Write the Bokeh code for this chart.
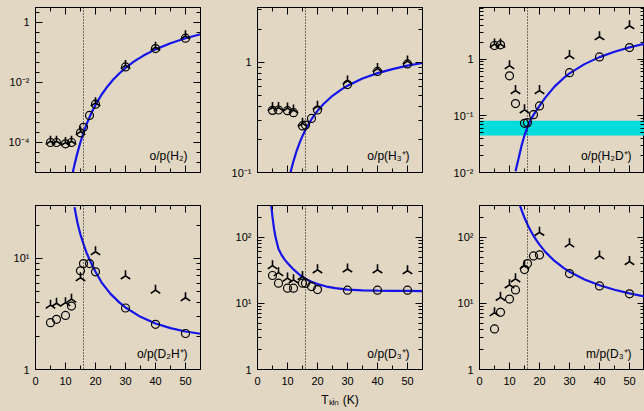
import math
from bokeh.plotting import figure
from bokeh.layouts import gridplot
from bokeh.models import (LinearAxis, LogAxis, FixedTicker, Span, BoxAnnotation,
                          Label, CustomJSTickFormatter)
from bokeh.embed import file_html
from bokeh.resources import INLINE

# ---------------- data ----------------
T_circ = [5, 7, 10, 12, 15, 16, 18, 20, 30, 40, 50]
T_tri = [5, 7, 10, 12, 15, 20, 30, 40, 50]
T_dust = 16

# o/p(H2)
h2_circ = [1.0e-4, 1.0e-4, 0.9e-4, 1.0e-4, 2.1e-4, 3.2e-4, 8.0e-4, 1.9e-3, 0.033, 0.135, 0.30]
h2_tri = [1.1e-4, 1.1e-4, 1.0e-4, 1.1e-4, 2.3e-4, 2.1e-3, 0.037, 0.15, 0.36]
h2_curve_T = [12, 12.5, 13, 13.5, 14, 15, 16, 17, 18, 19, 20, 22, 24, 26, 28, 30, 33, 36, 40, 45, 50, 55]
h2_curve = [6.1e-6, 1.07e-5, 1.83e-5, 2.9e-5, 4.6e-5, 1.04e-4, 2.1e-4, 4.0e-4, 6.9e-4, 1.14e-3,
            1.79e-3, 3.9e-3, 7.4e-3, 0.0128, 0.0204, 0.0306, 0.0513, 0.079, 0.127, 0.204, 0.297, 0.405]

# o/p(H3+)
h3p_circ = [0.367, 0.37, 0.365, 0.35, 0.265, 0.27, 0.31, 0.37, 0.63, 0.83, 0.97]
h3p_tri = [0.39, 0.39, 0.385, 0.37, 0.28, 0.40, 0.68, 0.88, 1.03]
h3p_curve_T = [11, 11.5, 12, 13, 14, 15, 16, 18, 20, 22, 25, 28, 30, 35, 40, 45, 50, 55]
h3p_curve = [0.100, 0.113, 0.127, 0.156, 0.185, 0.215, 0.245, 0.305, 0.363, 0.419, 0.498,
             0.570, 0.614, 0.714, 0.80, 0.871, 0.935, 0.990]

# o/p(H2D+)
h2dp_circ = [1.75, 1.8, 0.51, 0.165, 0.074, 0.076, 0.105, 0.15, 0.58, 1.1, 1.61]
h2dp_tri = [1.85, 1.85, 0.77, 0.28, 0.128, 0.28, 1.16, 2.5, 3.9]
h2dp_curve_T = [12, 12.5, 13, 14, 15, 16, 17, 18, 20, 22, 25, 28, 30, 35, 40, 45, 50, 55]
h2dp_curve = [0.0105, 0.0136, 0.0175, 0.0295, 0.0455, 0.063, 0.084, 0.104, 0.150, 0.212,
              0.328, 0.463, 0.563, 0.820, 1.09, 1.36, 1.62, 1.87]
h2dp_band = [0.045, 0.082]

# o/p(D2H+)
d2hp_circ = [2.64, 2.83, 3.07, 3.73, 7.74, 9.0, 9.0, 7.58, 3.58, 2.55, 2.11]
d2hp_tri = [3.8, 3.95, 4.0, 4.3, 6.7, 11.5, 6.98, 5.18, 4.43]
d2hp_curve_T = [13, 13.5, 14, 14.5, 15, 16, 17, 18, 19, 20, 22, 25, 28, 30, 35, 40, 45, 50, 55]
d2hp_curve = [29, 24.5, 21, 18.4, 16.4, 13.5, 11.3, 9.8, 8.6, 7.6, 6.1, 4.8, 4.0, 3.62,
              2.98, 2.6, 2.36, 2.2, 2.1]

# o/p(D3+)
d3p_circ = [26.3, 20.1, 16.9, 16.9, 20.1, 20.0, 17.9, 16.1, 15.8, 15.8, 15.8]
d3p_tri = [37, 29, 24, 22.6, 25.3, 32, 33, 32, 31]
d3p_curve_T = [4.6, 5.0, 5.5, 6, 7, 8, 9, 10, 12, 14, 16, 18, 20, 23, 26, 30, 35, 40, 45, 50, 55]
d3p_curve = [300, 200, 135, 100, 66, 54, 46, 40.5, 32.5, 27, 23.5, 21.2, 19.5, 17.9, 16.9,
             16.1, 15.7, 15.5, 15.4, 15.35, 15.3]

# m/p(D3+)
md3p_circ = [4.1, 7.3, 11.6, 15.9, 32.3, 39.8, 52, 53.8, 28.1, 18.3, 13.9]
md3p_tri = [7.2, 12.3, 19, 23.4, 37, 118, 79, 52, 42.7]
md3p_curve_T = [13.5, 14, 15, 16, 17, 18, 19, 20, 22, 25, 28, 30, 35, 40, 45, 50, 55]
md3p_curve = [298, 257, 196, 155, 126, 105, 89, 77, 59.3, 43.6, 34.2, 29.9, 22.9, 18.7,
              16.0, 14.1, 12.7]

panel_labels = ["o/p(H\u2082)", "o/p(H\u2083\u207a)", "o/p(H\u2082D\u207a)",
                "o/p(D\u2082H\u207a)", "o/p(D\u2083\u207a)", "m/p(D\u2083\u207a)"]
x_label = "T\u2096\u1d62\u2099 (K)"

x_range = [0, 55]
x_ticks = [0, 10, 20, 30, 40, 50]
x_minor_ticks = [5, 15, 25, 35, 45, 55]

y_ranges = [[1e-5, 3.16], [0.1, 3.16], [0.01, 8.2], [1, 30], [1, 300], [1, 300]]
y_ticks = [[1e-4, 1e-2, 1], [0.1, 1], [0.01, 0.1, 1], [1, 10], [1, 10, 100], [1, 10, 100]]
h2_minor_ticks = [10 ** (k / 3.0) for k in range(-15, 2)]
std_minor_ticks = [m * 10.0 ** e for e in range(-3, 3) for m in range(2, 10)]

# ---------------- style ----------------
BG = "#e1d7c3"
BLUE = "#1414e8"
CYAN = "#00dcdc"
FONT = "Liberation Sans"

col_w = [221, 223, 200]
col_left = [35, 36, 35]
col_right = [21, 22, 0]
row_h = [190, 221]
row_top = [7, 15]
row_bot = [18, 42]

SUP_JS = """
const e = Math.round(Math.log10(tick));
if (e === 0) { return "1"; }
const m = {"-":"\u207b","0":"\u2070","1":"\u00b9","2":"\u00b2","3":"\u00b3","4":"\u2074",
           "5":"\u2075","6":"\u2076","7":"\u2077","8":"\u2078","9":"\u2079"};
let s = "10";
for (const c of String(e)) { s += m[c]; }
return s;
"""


def style_axis(ax):
    ax.major_tick_in = 7
    ax.major_tick_out = 0
    ax.minor_tick_in = 4
    ax.minor_tick_out = 0
    ax.axis_line_color = "black"
    ax.major_tick_line_color = "black"
    ax.minor_tick_line_color = "black"
    ax.major_label_text_font = FONT
    ax.major_label_text_font_size = "11px"
    ax.major_label_text_color = "black"


def empty_fmt():
    return CustomJSTickFormatter(code="return '';")


def make_panel(idx, circ, tri, cT, cY, minor):
    row, col = divmod(idx, 3)
    yr = y_ranges[idx]
    p = figure(width=col_w[col], height=row_h[row], x_range=tuple(x_range), y_range=tuple(yr),
               y_axis_type="log", output_backend="svg", toolbar_location=None,
               min_border_left=col_left[col], min_border_right=col_right[col],
               min_border_top=row_top[row], min_border_bottom=row_bot[row],
               background_fill_color=BG, border_fill_color=BG,
               outline_line_color="black", outline_line_width=1)
    p.grid.visible = False

    xax = p.below[0]
    xax.ticker = FixedTicker(ticks=x_ticks, minor_ticks=x_minor_ticks)
    style_axis(xax)
    xax.major_label_standoff = 7
    if row == 0:
        xax.formatter = empty_fmt()
        xax.major_label_standoff = 0

    yax = p.left[0]
    yax.ticker = FixedTicker(ticks=y_ticks[idx], minor_ticks=minor)
    yax.formatter = CustomJSTickFormatter(code=SUP_JS)
    style_axis(yax)
    yax.major_label_standoff = 6

    rax = LogAxis(ticker=FixedTicker(ticks=y_ticks[idx], minor_ticks=minor), formatter=empty_fmt())
    style_axis(rax)
    rax.major_label_standoff = 0
    p.add_layout(rax, "right")

    tax = LinearAxis(ticker=FixedTicker(ticks=x_ticks, minor_ticks=x_minor_ticks), formatter=empty_fmt())
    style_axis(tax)
    tax.major_label_standoff = 0
    p.add_layout(tax, "above")

    if idx == 2:
        p.add_layout(BoxAnnotation(bottom=h2dp_band[0], top=h2dp_band[1], fill_color=CYAN,
                                   fill_alpha=1.0, line_alpha=0, level="underlay"))

    p.line(cT, cY, line_color=BLUE, line_width=2.2)
    p.scatter(T_tri, tri, marker="y", angle=math.pi, size=11, line_color="black",
              line_width=1.6, fill_color=None)
    p.scatter(T_circ, circ, marker="circle", size=8, line_color="black",
              line_width=1.2, fill_color=None)

    p.add_layout(Span(location=T_dust, dimension="height", line_color="black",
                      line_dash="1 2", line_width=1))

    lo, hi = math.log10(yr[0]), math.log10(yr[1])
    ly = 10 ** (lo + (16.0 / 164.0) * (hi - lo))
    p.add_layout(Label(x=50.7, y=ly, text=panel_labels[idx], text_align="right",
                       text_baseline="middle", text_font=FONT, text_font_size="12px",
                       text_color="black"))
    return p


p1 = make_panel(0, h2_circ, h2_tri, h2_curve_T, h2_curve, h2_minor_ticks)
p2 = make_panel(1, h3p_circ, h3p_tri, h3p_curve_T, h3p_curve, std_minor_ticks)
p3 = make_panel(2, h2dp_circ, h2dp_tri, h2dp_curve_T, h2dp_curve, std_minor_ticks)
p4 = make_panel(3, d2hp_circ, d2hp_tri, d2hp_curve_T, d2hp_curve, std_minor_ticks)
p5 = make_panel(4, d3p_circ, d3p_tri, d3p_curve_T, d3p_curve, std_minor_ticks)
p6 = make_panel(5, md3p_circ, md3p_tri, md3p_curve_T, md3p_curve, std_minor_ticks)

ax5 = p5.below[0]
ax5.axis_label = x_label
ax5.axis_label_text_font = FONT
ax5.axis_label_text_font_size = "12px"
ax5.axis_label_text_font_style = "normal"
ax5.axis_label_text_color = "black"
ax5.axis_label_standoff = 5

grid = gridplot([[p1, p2, p3], [p4, p5, p6]], toolbar_location=None)
grid.styles = {"background-color": BG}

open("out.html", "w").write(file_html(grid, INLINE))
